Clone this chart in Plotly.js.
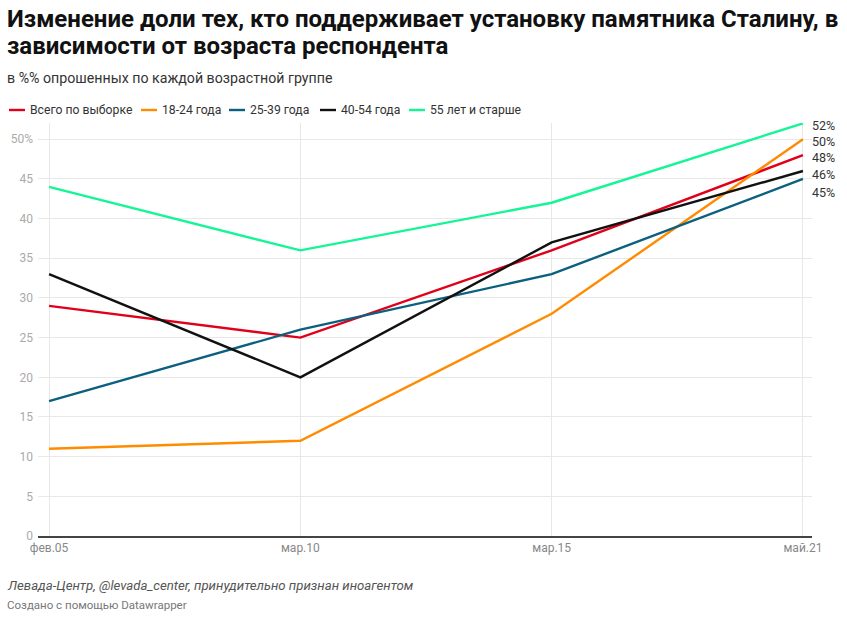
<!DOCTYPE html>
<html><head><meta charset="utf-8">
<script src="https://cdn.plot.ly/plotly-3.0.1.min.js"></script>
<style>body{margin:0;background:#fff}#c{width:847px;height:621px}</style>
</head><body><div id="c"></div>
<script>
const categories = ['фев.05','мар.10','мар.15','май.21'];
const seriesNames = ['Всего по выборке','18-24 года','25-39 года','40-54 года','55 лет и старше'];
const total = [29, 25, 36, 48];
const age18_24 = [11, 12, 28, 50];
const age25_39 = [17, 26, 33, 45];
const age40_54 = [33, 20, 37, 46];
const age55plus = [44, 36, 42, 52];
const yTickVals = [0,5,10,15,20,25,30,35,40,45,50];
const yTickText = ['0','5','10','15','20','25','30','35','40','45','50%'];

const colors = ['#e0001b','#ff8b00','#0b5f7f','#111111','#14f596'];
const values = [total, age18_24, age25_39, age40_54, age55plus];
const xIdx = categories.map((c,i)=>i);

const W = 847, H = 621, ML = 38, MR = 35, MT = 123, MB = 85;
const PW = W-ML-MR, PH = H-MT-MB;
const px = x => (x-ML)/PW;
const py = y => (H-MB-y)/PH;

const traces = values.map((v,i)=>({
  x: xIdx, y: v, type:'scatter', mode:'lines', name: seriesNames[i],
  line:{color:colors[i], width:2.4}, hoverinfo:'skip', cliponaxis:false, showlegend:false
}));
const labelShift = {0:-2,1:-2,2:-14,3:-3,4:-2};
const anns = values.map((v,i)=>({
  x: categories.length-1, y: v[v.length-1], xref:'x', yref:'y', text: v[v.length-1]+'%', showarrow:false,
  xanchor:'left', xshift:7, yshift: labelShift[i],
  font:{family:'Roboto', size:12.5, color:'#333'}
}));
function txt(t, x, y, size, color, extra){
  anns.push(Object.assign({xref:'paper', yref:'paper', x:px(x), y:py(y), xanchor:'left', yanchor:'middle',
    text:t, showarrow:false, borderpad:0, font:{family:'Roboto', size:size, color:color}}, extra||{}));
}
txt('<b>Изменение доли тех, кто поддерживает установку памятника Сталину, в</b>', 6, 19, 24, '#111');
txt('<b>зависимости от возраста респондента</b>', 6, 46, 24, '#111');
txt('в %% опрошенных по каждой возрастной группе', 6, 78, 14.2, '#333');
txt('<i>Левада-Центр, @levada_center, принудительно признан иноагентом</i>', 6, 585, 13.2, '#555');
txt('Создано с помощью Datawrapper', 6, 605, 11.5, '#777');

// custom legend
const legStarts = [9,141,229,320,409];
const legY = 110;
const shapes = [];
seriesNames.forEach((n,i)=>{
  shapes.push({type:'line', xref:'paper', yref:'paper', x0:px(legStarts[i]), x1:px(legStarts[i]+16),
    y0:py(legY), y1:py(legY), line:{color:colors[i], width:2.4}});
  txt(n, legStarts[i]+20, legY, 12.2, '#333');
});

const layout = {
  width:W, height:H,
  margin:{l:ML, r:MR, t:MT, b:MB},
  paper_bgcolor:'#fff', plot_bgcolor:'#fff',
  showlegend:false,
  xaxis:{tickvals:xIdx, ticktext:categories, range:[-0.044,3.036], showgrid:true, gridcolor:'#e8e8e8',
    zeroline:false, showline:true, linecolor:'#444', linewidth:1.5, ticks:'',
    tickfont:{family:'Roboto', size:12, color:'#888'}, fixedrange:true},
  yaxis:{tickvals:yTickVals, ticktext:yTickText, range:[0,52.05], showgrid:true, gridcolor:'#e8e8e8',
    zeroline:false, showline:false, ticks:'', ticklabelstandoff:4,
    tickfont:{family:'Roboto', size:12, color:'#aaa'}, fixedrange:true},
  annotations: anns,
  shapes: shapes,
  font:{family:'Roboto'}
};
Plotly.newPlot('c', traces, layout, {displayModeBar:false, staticPlot:true});
</script></body></html>
